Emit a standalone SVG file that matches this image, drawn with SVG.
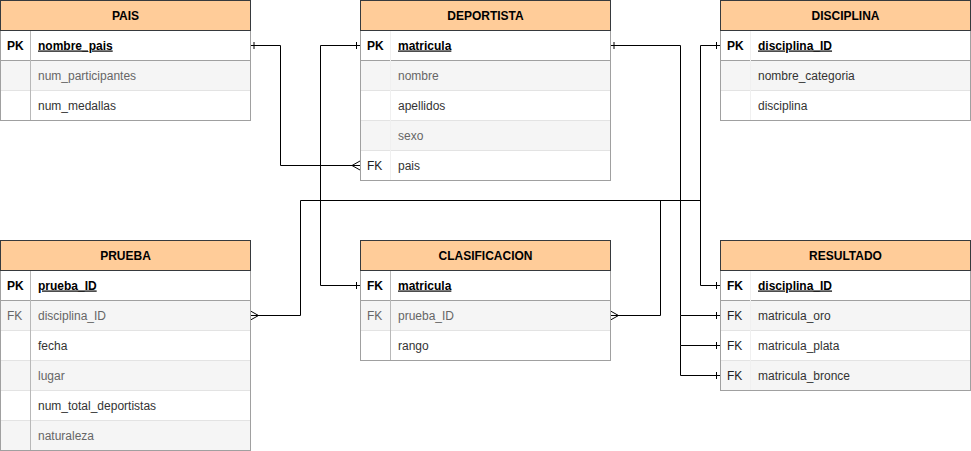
<svg xmlns="http://www.w3.org/2000/svg" width="971" height="451" viewBox="0 0 971 451">
<style>
text{font-family:"Liberation Sans",Arial,sans-serif;font-size:12px}
.hdr{fill:#ffcc99;stroke:#36393d;stroke-width:1}
.body{fill:#fff;stroke:#a0a0a0;stroke-width:1}
.alt{fill:#f5f5f5}
.sep{stroke:#e3e3e3;stroke-width:1}
.pksep{stroke:#a0a0a0;stroke-width:1}
.div{stroke:#b8b8b8;stroke-width:1}
.divf{stroke:#f0f0f0;stroke-width:1}
.title{font-weight:bold;fill:#000;text-anchor:middle}
.k{font-weight:bold;fill:#000}
.kn{fill:#222}
.kg{fill:#666}
.f{fill:#333}
.fg{fill:#666}
.pk{font-weight:bold;fill:#000;text-decoration:underline}
.conn{fill:none;stroke:#000;stroke-width:1}
</style>
<defs>
<marker id="one" markerUnits="userSpaceOnUse" markerWidth="10" markerHeight="10" refX="0" refY="0" orient="auto-start-reverse" overflow="visible">
<path d="M-3.5,-3.5 V3.5" fill="none" stroke="#000" stroke-width="1"/>
</marker>
<marker id="many" markerUnits="userSpaceOnUse" markerWidth="10" markerHeight="10" refX="0" refY="0" orient="auto-start-reverse" overflow="visible">
<path d="M0,-4.5 L-8,0 L0,4.5" fill="none" stroke="#000" stroke-width="1"/>
</marker>
</defs>

<g id="connectors">
<path class="conn" d="M250.5,45.5 H280.5 V165.5 H360" marker-start="url(#one)" marker-end="url(#many)"/>
<path class="conn" d="M360,45.5 H320.5 V285.5 H360" marker-start="url(#one)" marker-end="url(#one)"/>
<path class="conn" d="M610.5,45.5 H680.5 V315.5 H720" marker-start="url(#one)" marker-end="url(#one)"/>
<path class="conn" d="M680.5,315.5 V345.5 H720" marker-end="url(#one)"/>
<path class="conn" d="M680.5,345.5 V375.5 H720" marker-end="url(#one)"/>
<path class="conn" d="M720,45.5 H700.5 V285.5 H720" marker-start="url(#one)" marker-end="url(#one)"/>
<path class="conn" d="M250.5,315.5 H300.5 V200.5 H700.5" marker-start="url(#many)"/>
<path class="conn" d="M610.5,315.5 H660.5 V200.5" marker-start="url(#many)"/>
</g>

<g id="pais">
<rect class="body" x="0.5" y="30.5" width="250" height="90"/>
<rect class="alt" x="1" y="61" width="249" height="29"/>
<line class="pksep" x1="0.5" y1="60.5" x2="250.5" y2="60.5"/>
<line class="sep" x1="1" y1="90.5" x2="250" y2="90.5"/>
<line class="div" x1="30.5" y1="31" x2="30.5" y2="120"/>
<rect class="hdr" x="0.5" y="0.5" width="250" height="30"/>
<text class="title" x="125.5" y="19.5">PAIS</text>
<text class="k" x="7" y="49.5">PK</text>
<text class="pk" x="38" y="49.5">nombre_pais</text>
<text class="fg" x="38" y="79.5">num_participantes</text>
<text class="f" x="38" y="109.5">num_medallas</text>
</g>

<g id="deportista">
<rect class="body" x="360.5" y="30.5" width="250" height="150"/>
<rect class="alt" x="361" y="61" width="249" height="29"/>
<rect class="alt" x="361" y="121" width="249" height="29"/>
<line class="pksep" x1="360.5" y1="60.5" x2="610.5" y2="60.5"/>
<line class="sep" x1="361" y1="90.5" x2="610" y2="90.5"/>
<line class="sep" x1="361" y1="120.5" x2="610" y2="120.5"/>
<line class="sep" x1="361" y1="150.5" x2="610" y2="150.5"/>
<line class="divf" x1="390.5" y1="31" x2="390.5" y2="180"/>
<rect class="hdr" x="360.5" y="0.5" width="250" height="30"/>
<text class="title" x="485.5" y="19.5">DEPORTISTA</text>
<text class="k" x="367" y="49.5">PK</text>
<text class="pk" x="398" y="49.5">matricula</text>
<text class="fg" x="398" y="79.5">nombre</text>
<text class="f" x="398" y="109.5">apellidos</text>
<text class="fg" x="398" y="139.5">sexo</text>
<text class="kn" x="367" y="169.5">FK</text>
<text class="f" x="398" y="169.5">pais</text>
</g>

<g id="disciplina">
<rect class="body" x="720.5" y="30.5" width="250" height="90"/>
<rect class="alt" x="721" y="61" width="249" height="29"/>
<line class="pksep" x1="720.5" y1="60.5" x2="970.5" y2="60.5"/>
<line class="sep" x1="721" y1="90.5" x2="970" y2="90.5"/>
<line class="divf" x1="750.5" y1="31" x2="750.5" y2="120"/>
<rect class="hdr" x="720.5" y="0.5" width="250" height="30"/>
<text class="title" x="845.5" y="19.5">DISCIPLINA</text>
<text class="k" x="727" y="49.5">PK</text>
<text class="pk" x="758" y="49.5">disciplina_ID</text>
<text class="f" x="758" y="79.5">nombre_categoria</text>
<text class="f" x="758" y="109.5">disciplina</text>
</g>

<g id="prueba">
<rect class="body" x="0.5" y="270.5" width="250" height="180"/>
<rect class="alt" x="1" y="301" width="249" height="29"/>
<rect class="alt" x="1" y="361" width="249" height="29"/>
<rect class="alt" x="1" y="421" width="249" height="29"/>
<line class="pksep" x1="0.5" y1="300.5" x2="250.5" y2="300.5"/>
<line class="sep" x1="1" y1="330.5" x2="250" y2="330.5"/>
<line class="sep" x1="1" y1="360.5" x2="250" y2="360.5"/>
<line class="sep" x1="1" y1="390.5" x2="250" y2="390.5"/>
<line class="sep" x1="1" y1="420.5" x2="250" y2="420.5"/>
<line class="div" x1="30.5" y1="271" x2="30.5" y2="450"/>
<rect class="hdr" x="0.5" y="240.5" width="250" height="30"/>
<text class="title" x="125.5" y="259.5">PRUEBA</text>
<text class="k" x="7" y="289.5">PK</text>
<text class="pk" x="38" y="289.5">prueba_ID</text>
<text class="kg" x="7" y="319.5">FK</text>
<text class="fg" x="38" y="319.5">disciplina_ID</text>
<text class="f" x="38" y="349.5">fecha</text>
<text class="fg" x="38" y="379.5">lugar</text>
<text class="f" x="38" y="409.5">num_total_deportistas</text>
<text class="fg" x="38" y="439.5">naturaleza</text>
</g>

<g id="clasificacion">
<rect class="body" x="360.5" y="270.5" width="250" height="90"/>
<rect class="alt" x="361" y="301" width="249" height="29"/>
<line class="pksep" x1="360.5" y1="300.5" x2="610.5" y2="300.5"/>
<line class="sep" x1="361" y1="330.5" x2="610" y2="330.5"/>
<line class="div" x1="390.5" y1="271" x2="390.5" y2="360"/>
<rect class="hdr" x="360.5" y="240.5" width="250" height="30"/>
<text class="title" x="485.5" y="259.5">CLASIFICACION</text>
<text class="k" x="367" y="289.5">FK</text>
<text class="pk" x="398" y="289.5">matricula</text>
<text class="kg" x="367" y="319.5">FK</text>
<text class="fg" x="398" y="319.5">prueba_ID</text>
<text class="f" x="398" y="349.5">rango</text>
</g>

<g id="resultado">
<rect class="body" x="720.5" y="270.5" width="250" height="120"/>
<rect class="alt" x="721" y="301" width="249" height="29"/>
<rect class="alt" x="721" y="361" width="249" height="29"/>
<line class="pksep" x1="720.5" y1="300.5" x2="970.5" y2="300.5"/>
<line class="sep" x1="721" y1="330.5" x2="970" y2="330.5"/>
<line class="sep" x1="721" y1="360.5" x2="970" y2="360.5"/>
<line class="divf" x1="750.5" y1="271" x2="750.5" y2="390"/>
<rect class="hdr" x="720.5" y="240.5" width="250" height="30"/>
<text class="title" x="845.5" y="259.5">RESULTADO</text>
<text class="k" x="727" y="289.5">FK</text>
<text class="pk" x="758" y="289.5">disciplina_ID</text>
<text class="kn" x="727" y="319.5">FK</text>
<text class="f" x="758" y="319.5">matricula_oro</text>
<text class="kn" x="727" y="349.5">FK</text>
<text class="f" x="758" y="349.5">matricula_plata</text>
<text class="kn" x="727" y="379.5">FK</text>
<text class="f" x="758" y="379.5">matricula_bronce</text>
</g>
</svg>
